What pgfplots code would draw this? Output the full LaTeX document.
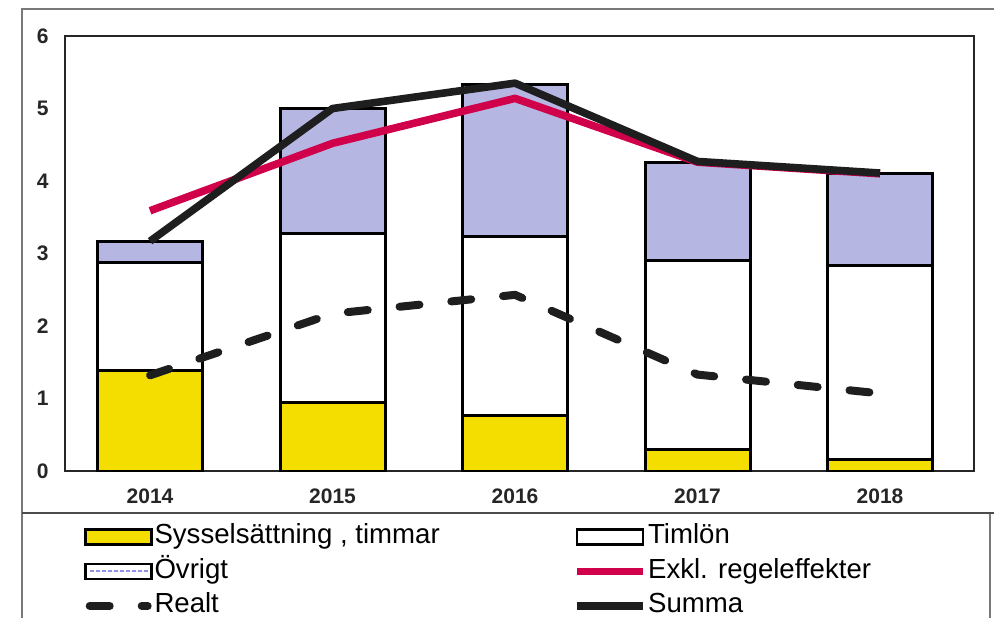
\documentclass[border=0pt]{standalone}
\usepackage{pgfplots}
\pgfplotsset{compat=1.18}
\usepackage{fontspec}
\setmainfont{Liberation Sans}
\definecolor{syss}{RGB}{243,222,0}
\definecolor{ovr}{RGB}{182,182,226}
\definecolor{exkl}{RGB}{208,0,74}
\definecolor{summa}{RGB}{30,30,30}
\definecolor{framec}{RGB}{120,120,120}
\begin{document}
\begin{tikzpicture}
\useasboundingbox (-32.5pt,-73pt) rectangle (464.5pt,235.5pt);
\draw[framec, line width=0.8pt] (-21.5pt,-80pt) -- (-21.5pt,231pt) -- (470pt,231pt);
\draw[framec, line width=0.6pt] (462.5pt,-21pt) -- (462.5pt,-80pt);
\draw[black!70, line width=1.1pt] (-21.5pt,-21pt) -- (470pt,-21pt);
\begin{axis}[
  at={(0,0)}, anchor=south west, scale only axis,
  width=454.5pt, height=217.5pt,
  xmin=-0.466, xmax=4.515, ymin=0, ymax=6,
  ybar stacked, bar width=52.5pt, reverse stacked plots=false,
  xtick={0,1,2,3,4}, xticklabels={2014,2015,2016,2017,2018},
  ytick={0,1,2,3,4,5,6},
  major tick length=0pt,
  axis line style={line width=1.3pt, black!85},
  tick label style={font=\fontsize{10.5}{12}\selectfont\bfseries, text=black!85},
  /pgf/number format/assume math mode=true,
  yticklabel style={inner sep=0pt, xshift=-8pt},
  xticklabel style={inner sep=0pt, yshift=-8.5pt},
  legend columns=2,
  legend cell align=left,
  legend style={at={(0,0)}, anchor=north west, xshift=6.5pt, yshift=-24pt,
    draw=none, fill=none, font=\fontsize{13.8}{15}\selectfont,
    nodes={inner sep=0.75pt, text height=9.5pt, text depth=2.5pt},
    row sep=3.75pt, column sep=0pt},
]
\addplot[fill=syss, draw=black, line width=1.5pt,
  legend image code/.code={\draw[fill=syss, draw=black, line width=1.3pt] (0pt,-3.75pt) rectangle (33pt,3.75pt);}]
  coordinates {(0,1.39) (1,0.94) (2,0.76) (3,0.29) (4,0.16)};
\addlegendentry{\makebox[208.5pt][l]{Sysselsättning , timmar}}
\addplot[fill=white, draw=black, line width=1.5pt,
  legend image code/.code={\draw[fill=white, draw=black, line width=1.3pt] (0pt,-3.75pt) rectangle (33pt,3.75pt);}]
  coordinates {(0,1.49) (1,2.34) (2,2.48) (3,2.62) (4,2.67)};
\addlegendentry{Timlön}
\addplot[fill=ovr, draw=black, line width=1.5pt,
  legend image code/.code={\draw[fill=white, draw=black, line width=1.3pt] (0pt,-3.75pt) rectangle (33pt,3.75pt);
    \draw[ovr!80!blue, line width=1pt, dash pattern=on 2pt off 1pt] (2pt,0pt) -- (31pt,0pt);}]
  coordinates {(0,0.29) (1,1.72) (2,2.09) (3,1.35) (4,1.27)};
\addlegendentry{\makebox[208.5pt][l]{Övrigt}}
\addplot[sharp plot, stack plots=false, exkl, line width=3.8pt, line join=round,
  legend image code/.code={\draw[exkl, line width=3.8pt] (0pt,0pt) -- (33pt,0pt);}]
  coordinates {(0,3.59) (1,4.52) (2,5.14) (3,4.26) (4,4.10)};
\addlegendentry{Exkl. regeleffekter}
\addplot[sharp plot, stack plots=false, summa, line width=4pt, line cap=round,
  dash pattern=on 10pt off 16pt,
  legend image code/.code={\draw[summa, line width=4pt, line cap=round, dash pattern=on 10pt off 16pt] (2pt,0pt) -- (31pt,0pt);}]
  coordinates {(0,1.32) (1,2.17) (2,2.43) (3,1.33) (4,1.07)};
\addlegendentry{\makebox[208.5pt][l]{Realt}}
\addplot[sharp plot, stack plots=false, summa, line width=3.8pt, line join=round,
  legend image code/.code={\draw[summa, line width=3.8pt] (0pt,0pt) -- (33pt,0pt);}]
  coordinates {(0,3.17) (1,5.00) (2,5.35) (3,4.27) (4,4.11)};
\addlegendentry{Summa}
\end{axis}
\end{tikzpicture}
\end{document}
